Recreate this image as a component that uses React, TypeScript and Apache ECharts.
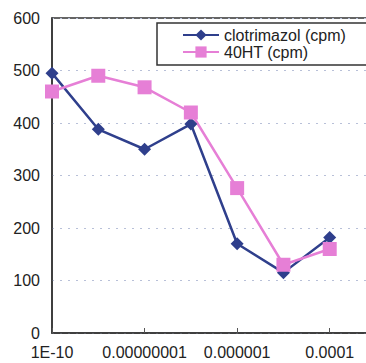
import React, { useEffect, useRef } from "react";
import * as echarts from "echarts";

const concentrations = ["1E-10", "1E-9", "1E-8", "1E-7", "1E-6", "1E-5", "1E-4", "1E-3"];
const tickLabels = ["1E-10", "", "0.00000001", "", "0.000001", "", "0.0001", ""];
const clotrimazol = [495, 388, 350, 398, 170, 115, 182];
const ht40 = [460, 490, 468, 420, 276, 130, 160];
const yTicks = { min: 0, max: 600, interval: 100 };

export default function App() {
  const ref = useRef<HTMLDivElement>(null);
  useEffect(() => {
    const chart = echarts.init(ref.current!, undefined, { renderer: "svg" });
    const font = "'Liberation Sans', Arial, sans-serif";
    chart.setOption({
      animation: false,
      backgroundColor: "#ffffff",
      textStyle: { fontFamily: font },
      grid: {
        left: 52,
        top: 18,
        right: -10,
        bottom: 30,
        show: true,
        borderColor: "#333333",
        borderWidth: 1.5,
        containLabel: false,
        outerBoundsMode: "none",
      },
      legend: {
        orient: "vertical",
        left: 157,
        top: 23,
        padding: [4, 40, 5, 25],
        itemWidth: 36,
        itemHeight: 14,
        itemGap: 1,
        borderColor: "#333333",
        borderWidth: 1.5,
        backgroundColor: "#ffffff",
        textStyle: { fontFamily: font, fontSize: 16, color: "#222222" },
        data: ["clotrimazol (cpm)", "40HT (cpm)"],
      },
      xAxis: {
        type: "category",
        data: concentrations,
        boundaryGap: false,
        axisLine: { lineStyle: { color: "#333333", width: 1.5 } },
        axisTick: { show: true, inside: true, length: 5, interval: 1, lineStyle: { color: "#555555" } },
        axisLabel: {
          interval: 1,
          margin: 11,
          fontFamily: font,
          fontSize: 16,
          color: "#222222",
          formatter: (_v: string, i: number) => tickLabels[i],
        },
        splitLine: { show: false },
      },
      yAxis: {
        type: "value",
        min: yTicks.min,
        max: yTicks.max,
        interval: yTicks.interval,
        axisLine: { show: true, lineStyle: { color: "#333333", width: 1.5 } },
        axisTick: { show: false },
        axisLabel: { margin: 12, fontFamily: font, fontSize: 16, color: "#222222" },
        splitLine: { show: true, lineStyle: { color: "#b8c0d8", type: [2, 6], width: 1 } },
      },
      series: [
        {
          name: "clotrimazol (cpm)",
          type: "line",
          data: clotrimazol,
          symbol: "diamond",
          symbolSize: 13,
          itemStyle: { color: "#2f3f8c" },
          lineStyle: { color: "#2f3f8c", width: 2.5 },
        },
        {
          name: "40HT (cpm)",
          type: "line",
          data: ht40,
          symbol: "rect",
          symbolSize: 14,
          itemStyle: { color: "#e67fd6" },
          lineStyle: { color: "#e67fd6", width: 2.5 },
        },
      ],
    });
    return () => chart.dispose();
  }, []);
  return (
    <div
      ref={ref}
      style={{ position: "absolute", left: 0, top: 0, width: 366, height: 363 }}
    />
  );
}
